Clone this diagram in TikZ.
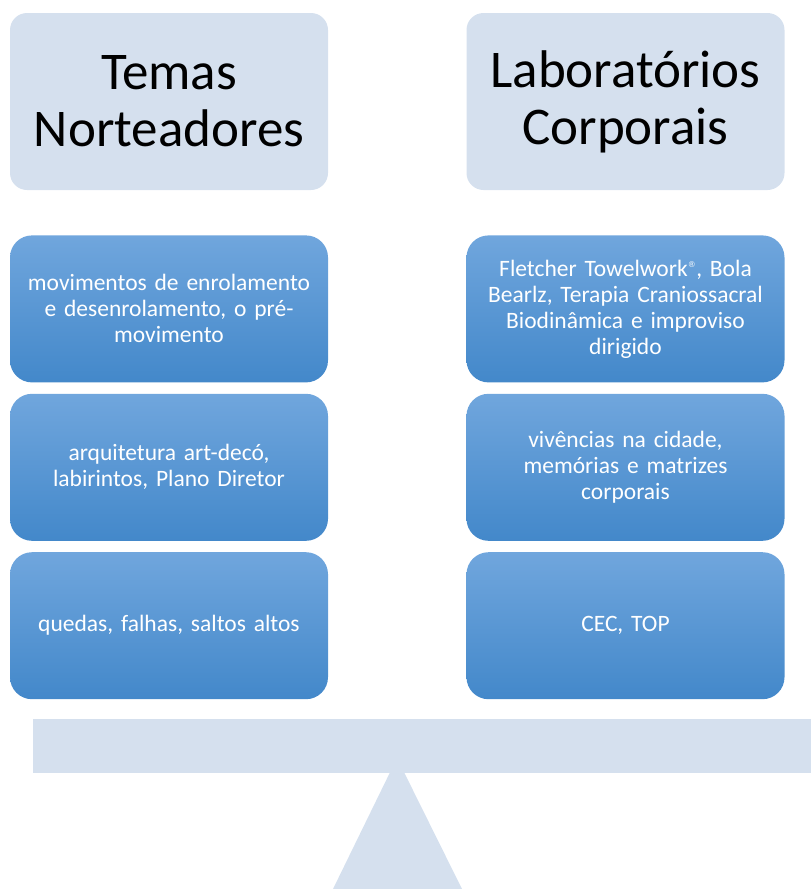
\documentclass[tikz,border=0pt]{standalone}
\usepackage{fontspec}
\setmainfont{Carlito}
\newfontfamily\regfont{DejaVu Sans}
\usetikzlibrary{positioning}

\definecolor{headfill}{RGB}{213,224,238}
\definecolor{itemtop}{RGB}{112,166,221}
\definecolor{itembot}{RGB}{67,136,202}

\begin{document}
\begin{tikzpicture}[
  x=1pt, y=-1pt,
  headbox/.style={rectangle, rounded corners=17pt, fill=headfill, minimum width=318pt, minimum height=177pt, inner sep=0pt, align=center, font=\fontsize{53}{57}\selectfont},
  itembox/.style={rectangle, rounded corners=22pt, top color=itemtop, bottom color=itembot, minimum width=318pt, minimum height=147pt, inner sep=0pt, text width=306pt, align=center, text=white, font=\fontsize{23.5}{26}\selectfont},
  beam/.style={fill=headfill}
]
\useasboundingbox (0,0) rectangle (811,889);

% Column heads
\node[headbox] (temas) at (169,101.5) {Temas\\Norteadores};
\node[headbox] (labs)  at (625.5,101.5) {Laboratórios\\Corporais};

% Left column
\node[itembox] (t1) [below=45pt of temas] {movimentos de enrolamento\\e desenrolamento, o pré-\\movimento};
\node[itembox] (t2) [below=11pt of t1] {arquitetura art-decó,\\labirintos, Plano Diretor};
\node[itembox] (t3) [below=11pt of t2] {quedas, falhas, saltos altos};

% Right column
\node[itembox] (l1) [below=45pt of labs] {Fletcher Towelwork\textsuperscript{\regfont\fontsize{8}{8}\selectfont ®}, Bola\\Bearlz, Terapia Craniossacral\\Biodinâmica e improviso\\dirigido};
\node[itembox] (l2) [below=11pt of l1] {vivências na cidade,\\memórias e matrizes\\corporais};
\node[itembox] (l3) [below=11pt of l2] {CEC, TOP};

% Balance
\coordinate (apex) at (397,758);
\fill[beam] (apex) -- (333,889) -- (462,889) -- cycle;
\fill[beam] (33,719) rectangle (811,773);
\end{tikzpicture}
\end{document}
